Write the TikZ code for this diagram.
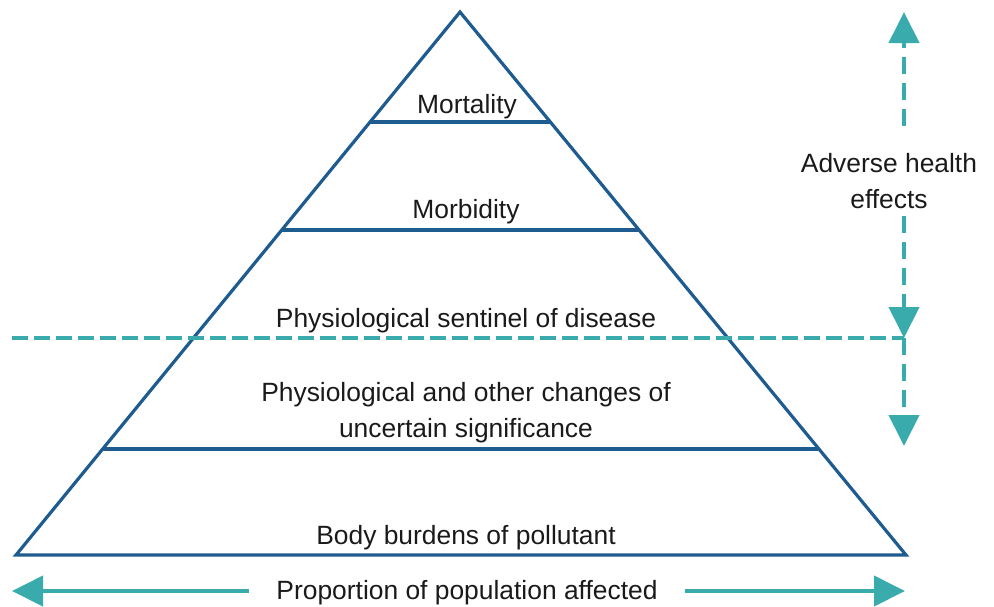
\documentclass[tikz,border=0pt]{standalone}
\usepackage{fontspec}
\setmainfont{Liberation Sans}
\usetikzlibrary{arrows.meta}
\definecolor{pyrblue}{HTML}{1E5B8E}
\definecolor{tealc}{HTML}{3AABAD}
\definecolor{txt}{HTML}{1A1A1A}
\tikzset{
  pyr/.style={draw=pyrblue, line width=3.2pt, line join=miter},
  band/.style={draw=pyrblue, line width=4pt},
  lbl/.style={text=txt, font=\fontsize{26.4}{36}\selectfont, align=center, inner sep=0pt},
  vdash/.style={draw=tealc, line width=4pt, dash pattern=on 17pt off 9pt, -{Triangle[length=31pt,width=30pt]}},
  hdash/.style={draw=tealc, line width=4pt, dash pattern=on 16pt off 6pt},
  harrow/.style={draw=tealc, line width=4pt, -{Triangle[length=31pt,width=30pt]}}
}
\begin{document}
\begin{tikzpicture}[x=1pt,y=-1pt]
\useasboundingbox (0,0) rectangle (994,606);
% pyramid
\coordinate (apex) at (460,12);
\coordinate (bl) at (16,555);
\coordinate (br) at (906,555);
\draw[pyr] (bl) -- (apex) -- (br) -- cycle;
\coordinate (m1l) at (370,122); \coordinate (m1r) at (551,122);
\coordinate (m2l) at (282,230); \coordinate (m2r) at (638,230);
\coordinate (m3l) at (103,449); \coordinate (m3r) at (818,449);
\draw[band] (m1l) -- (m1r);
\draw[band] (m2l) -- (m2r);
\draw[band] (m3l) -- (m3r);
% labels
\node[lbl] (mort) at (467,107) {Mortality};
\node[lbl] (morb) at (466,212) {Morbidity};
\node[lbl] (sent) at (466,321) {Physiological sentinel of disease};
\node[lbl] (unc) at (466,413) {Physiological and other changes of\\uncertain significance};
\node[lbl] (body) at (466,538) {Body burdens of pollutant};
% threshold dashed line
\coordinate (hl) at (12,338);
\coordinate (hr) at (904,338);
\draw[hdash] (hl) -- (hr);
% adverse health effects arrows
\node[lbl] (ahe) at (889,181) {Adverse health\\effects};
\coordinate (vtop) at (904,12);
\coordinate (v1s) at (904,126);
\coordinate (v2s) at (904,216);
\coordinate (v3e) at (904,446);
\draw[vdash] (v1s) -- (vtop);
\draw[vdash] (v2s) -- (hr);
\draw[vdash] (hr) -- (v3e);
% population arrow
\node[lbl, inner xsep=27pt] (prop) at (467,593) {Proportion of population affected};
\coordinate (ltip) at (12,591);
\coordinate (rtip) at (905,591);
\draw[harrow] (prop.west |- ltip) -- (ltip);
\draw[harrow] (prop.east |- rtip) -- (rtip);
\end{tikzpicture}
\end{document}
